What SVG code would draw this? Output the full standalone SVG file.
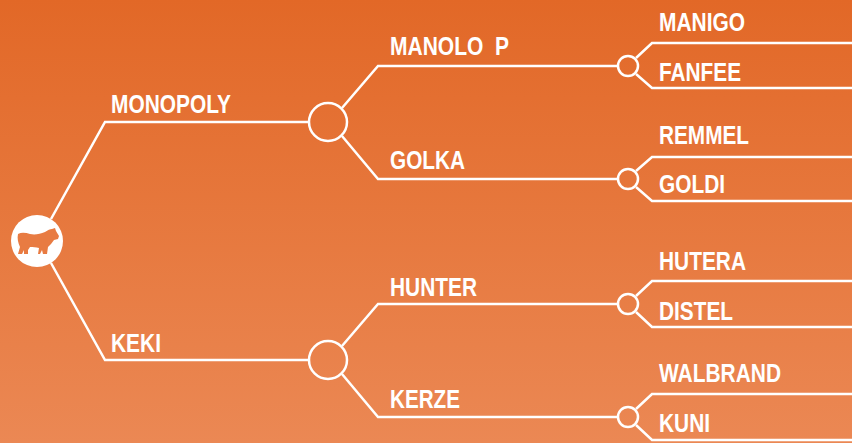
<svg xmlns="http://www.w3.org/2000/svg" width="852" height="443" viewBox="0 0 852 443">
<defs>
<linearGradient id="bg" x1="0" y1="0" x2="0" y2="1"><stop offset="0" stop-color="#e26827"/><stop offset="1" stop-color="#eb8854"/></linearGradient>
</defs>
<style>
.c{fill:none;stroke:#fff;stroke-width:2.5;stroke-linejoin:miter}
.t{font-family:"Liberation Sans",Arial,sans-serif;font-weight:700;font-size:25px;fill:#fff}
</style>
<rect width="852" height="443" fill="url(#bg)"/>
<g id="connectors" class="c">
<path d="M51 219L105 122H309"/>
<path d="M51 263L105 360H309"/>
<path d="M342 108L378 66H618"/>
<path d="M342 136L378 179H618"/>
<path d="M342 346L378 304H618"/>
<path d="M342 374L378 417H618"/>
<path d="M636 58L652 43H852"/><path d="M636 74L652 88H852"/>
<path d="M636 171L652 157H852"/><path d="M636 187L652 201H852"/>
<path d="M636 296L652 281H852"/><path d="M636 312L652 327H852"/>
<path d="M636 409L652 394H852"/><path d="M636 425L652 440H852"/>
</g>
<g id="root">
<circle cx="37" cy="241" r="26" fill="#fff"/>
<path fill="#e87b42" d="M18 234C22 232 26 233 30 234C35 235 40 234 45 232C48 230 50 229 52 229L55 228L56 231L59 236L58 239L54 240C52 243 50 245 48 247L47 254H43L42 250L40 254H38L39 248C36 247 33 247 30 247L28 250L28 254H24L24 250L22 254H18L20 247C18 243 17 238 18 234Z"/>
</g>
<g id="n-monopoly"><text class="t" x="111" y="113" textLength="120" lengthAdjust="spacingAndGlyphs">MONOPOLY</text></g>
<g id="n-keki"><text class="t" x="111" y="352" textLength="50" lengthAdjust="spacingAndGlyphs">KEKI</text></g>
<g id="j-top"><circle class="c" cx="328" cy="122" r="19"/></g>
<g id="j-bottom"><circle class="c" cx="328" cy="360" r="19"/></g>
<g id="n-manolo"><text class="t" x="390" y="55" textLength="119" lengthAdjust="spacingAndGlyphs" xml:space="preserve">MANOLO  P</text></g>
<g id="n-golka"><text class="t" x="390" y="169" textLength="75" lengthAdjust="spacingAndGlyphs">GOLKA</text></g>
<g id="n-hunter"><text class="t" x="390" y="296" textLength="87" lengthAdjust="spacingAndGlyphs">HUNTER</text></g>
<g id="n-kerze"><text class="t" x="390" y="408" textLength="70" lengthAdjust="spacingAndGlyphs">KERZE</text></g>
<g id="j1"><circle class="c" cx="628" cy="66" r="10"/></g>
<g id="j2"><circle class="c" cx="628" cy="179" r="10"/></g>
<g id="j3"><circle class="c" cx="628" cy="304" r="10"/></g>
<g id="j4"><circle class="c" cx="628" cy="417" r="10"/></g>
<g id="n-manigo"><text class="t" x="659" y="31" textLength="86" lengthAdjust="spacingAndGlyphs">MANIGO</text></g>
<g id="n-fanfee"><text class="t" x="659" y="81" textLength="82" lengthAdjust="spacingAndGlyphs">FANFEE</text></g>
<g id="n-remmel"><text class="t" x="659" y="144" textLength="90" lengthAdjust="spacingAndGlyphs">REMMEL</text></g>
<g id="n-goldi"><text class="t" x="659" y="193" textLength="66" lengthAdjust="spacingAndGlyphs">GOLDI</text></g>
<g id="n-hutera"><text class="t" x="659" y="270" textLength="87" lengthAdjust="spacingAndGlyphs">HUTERA</text></g>
<g id="n-distel"><text class="t" x="659" y="320" textLength="74" lengthAdjust="spacingAndGlyphs">DISTEL</text></g>
<g id="n-walbrand"><text class="t" x="659" y="382" textLength="122" lengthAdjust="spacingAndGlyphs">WALBRAND</text></g>
<g id="n-kuni"><text class="t" x="659" y="432" textLength="51" lengthAdjust="spacingAndGlyphs">KUNI</text></g>
</svg>
